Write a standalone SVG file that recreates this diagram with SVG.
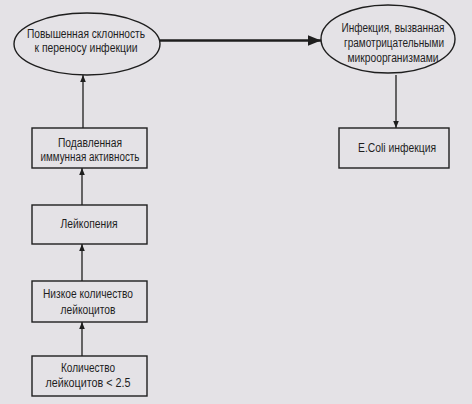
<svg xmlns="http://www.w3.org/2000/svg" width="472" height="404" viewBox="0 0 472 404">
<style>
.n{fill:none;stroke:#1e1e1e;stroke-width:1.4}
.t{font-family:"Liberation Sans",Arial,sans-serif;font-size:12px;fill:#1e1e1e;text-anchor:middle}
.c{stroke:#1e1e1e;stroke-width:1.3;fill:none}
</style>
<defs>
<marker id="a" viewBox="0 0 10 10" refX="10" refY="5" markerWidth="7" markerHeight="7" markerUnits="userSpaceOnUse" orient="auto">
<path d="M0,1 L10,5 L0,9 Z" fill="#1e1e1e"/>
</marker>
<marker id="b" viewBox="0 0 10 10" refX="10" refY="5" markerWidth="5" markerHeight="5" orient="auto">
<path d="M0,1 L10,5 L0,9 Z" fill="#1e1e1e"/>
</marker>
</defs>
<rect width="472" height="404" fill="#e4e2e6"/>
<g id="connectors">
<line class="c" x1="160" y1="40.5" x2="321" y2="40.5" style="stroke-width:2.6" marker-end="url(#b)"/>
<line class="c" x1="396" y1="75" x2="396" y2="128" marker-end="url(#a)"/>
<line class="c" x1="83" y1="128" x2="83" y2="75" marker-end="url(#a)"/>
<line class="c" x1="82" y1="205" x2="82" y2="168" marker-end="url(#a)"/>
<line class="c" x1="82" y1="281" x2="82" y2="244" marker-end="url(#a)"/>
<line class="c" x1="82" y1="356" x2="82" y2="322" marker-end="url(#a)"/>
</g>
<g id="n1">
<ellipse class="n" cx="87" cy="44" rx="73" ry="31"/>
<text class="t" x="86" y="38" textLength="118" lengthAdjust="spacingAndGlyphs">Повышенная склонность</text>
<text class="t" x="86" y="52" textLength="103" lengthAdjust="spacingAndGlyphs">к переносу инфекции</text>
</g>
<g id="n2">
<ellipse class="n" cx="388" cy="39" rx="67" ry="34"/>
<text class="t" x="393" y="32" textLength="103" lengthAdjust="spacingAndGlyphs">Инфекция, вызванная</text>
<text class="t" x="394" y="47" textLength="100" lengthAdjust="spacingAndGlyphs">грамотрицательными</text>
<text class="t" x="393" y="62" textLength="91" lengthAdjust="spacingAndGlyphs">микроорганизмами</text>
</g>
<g id="n3">
<rect class="n" x="339" y="128" width="110" height="40"/>
<text class="t" x="397" y="152" textLength="78" lengthAdjust="spacingAndGlyphs">E.Coli инфекция</text>
</g>
<g id="n4">
<rect class="n" x="32" y="128" width="115" height="40"/>
<text class="t" x="90" y="147" textLength="64" lengthAdjust="spacingAndGlyphs">Подавленная</text>
<text class="t" x="90" y="161" textLength="99" lengthAdjust="spacingAndGlyphs">иммунная активность</text>
</g>
<g id="n5">
<rect class="n" x="32" y="205" width="115" height="39"/>
<text class="t" x="89" y="228" textLength="57" lengthAdjust="spacingAndGlyphs">Лейкопения</text>
</g>
<g id="n6">
<rect class="n" x="32" y="281" width="115" height="41"/>
<text class="t" x="88" y="298" textLength="90" lengthAdjust="spacingAndGlyphs">Низкое количество</text>
<text class="t" x="88" y="314" textLength="55" lengthAdjust="spacingAndGlyphs">лейкоцитов</text>
</g>
<g id="n7">
<rect class="n" x="32" y="356" width="115" height="40"/>
<text class="t" x="88" y="372" textLength="54" lengthAdjust="spacingAndGlyphs">Количество</text>
<text class="t" x="88" y="387" textLength="85" lengthAdjust="spacingAndGlyphs">лейкоцитов &lt; 2.5</text>
</g>
</svg>
